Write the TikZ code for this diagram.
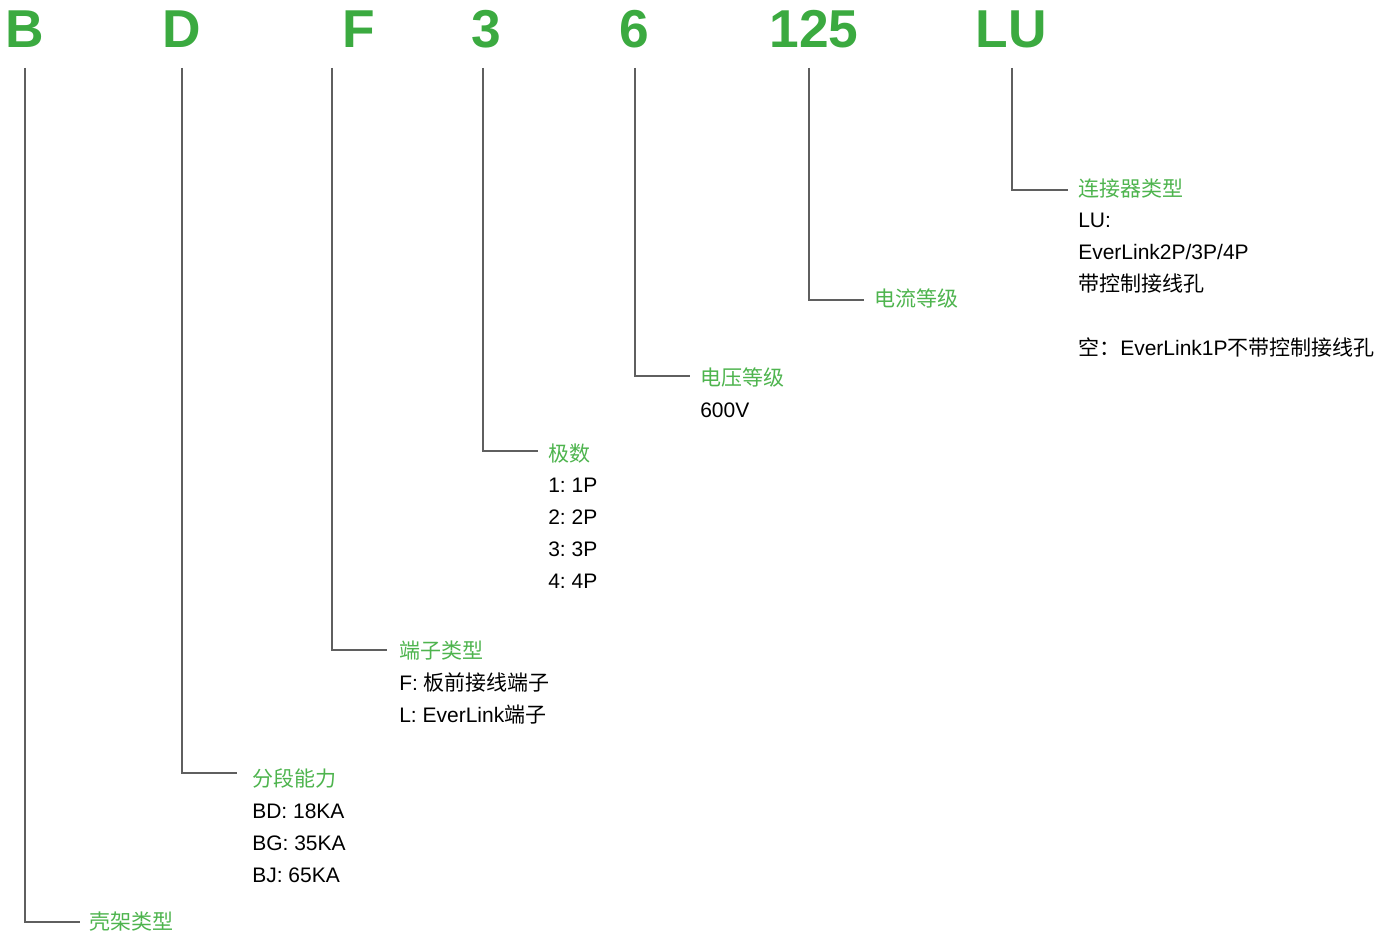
\documentclass[tikz,border=0pt]{standalone}
\usepackage{fontspec}
\setmainfont{Liberation Sans}
\newfontfamily\cjk{Noto Sans CJK SC}
\usetikzlibrary{calc}
\definecolor{gbig}{RGB}{59,170,64}
\definecolor{glab}{RGB}{78,180,78}
\definecolor{lgray}{RGB}{95,95,95}
\frenchspacing
\newcommand\stk[1]{\vtop{\baselineskip=24pt\lineskiplimit=-100pt\relax #1}}
\begin{document}
\begin{tikzpicture}[x=0.75pt,y=-0.75pt,
  big/.style={font=\fontsize{40}{40}\selectfont\bfseries, text=gbig, inner sep=0pt, anchor=base},
  ttl/.style={font=\fontsize{15.75}{24}\selectfont\cjk, text=glab, inner sep=0pt, anchor=base west},
  bdy/.style={font=\fontsize{15.75}{24}\selectfont, text=black, inner sep=0pt, anchor=base west},
  conn/.style={draw=lgray, line width=0.8pt}]
\useasboundingbox (0,0) rectangle (1397,934);
% code letters
\node[big] (nB)   at (24.5,48) {B};
\node[big] (nD)   at (182,48)  {D};
\node[big] (nF)   at (358.5,48) {F};
\node[big] (n3)   at (486,48)  {3};
\node[big] (n6)   at (634.5,48) {6};
\node[big] (n125) at (814,48)  {125};
\node[big] (nLU)  at (1011.5,48) {LU};
% connector tops
\coordinate (tB)   at (25,68);
\coordinate (tD)   at (182,68);
\coordinate (tF)   at (332,68);
\coordinate (t3)   at (483,68);
\coordinate (t6)   at (635,68);
\coordinate (t125) at (809,68);
\coordinate (tLU)  at (1012,68);
% titles
\node[ttl] (hB)   at (89,929)  {壳架类型};
\node[ttl] (hD)   at (252,786) {分段能力};
\node[ttl] (hF)   at (399,658) {端子类型};
\node[ttl] (h3)   at (548,461) {极数};
\node[ttl] (h6)   at (700,386) {电压等级};
\node[ttl] (h125) at (874,307) {电流等级};
\node[ttl] (hLU)  at (1078,197) {连接器类型};
% bodies
\node[bdy] (bD) at (252,818) {\stk{\hbox{BD: 18KA}\hbox{BG: 35KA}\hbox{BJ: 65KA}}};
\node[bdy] (bF) at (399,690) {\stk{\hbox{F: {\cjk 板前接线端子}}\hbox{L: EverLink{\cjk 端子}}}};
\node[bdy] (b3) at (548,493) {\stk{\hbox{1: 1P}\hbox{2: 2P}\hbox{3: 3P}\hbox{4: 4P}}};
\node[bdy] (b6) at (700,418) {600V};
\node[bdy] (bLU) at (1078,228) {\stk{\hbox{LU:}\hbox{EverLink2P/3P/4P}\hbox{\cjk 带控制接线孔}\hbox{}\hbox{{\cjk 空：}EverLink1P{\cjk 不带控制接线孔}}}};
% connectors
\draw[conn] (tB)   |- ($(hB.base west)+(-9,-7)$);
\draw[conn] (tD)   |- ($(hD.base west)+(-15,-13)$);
\draw[conn] (tF)   |- ($(hF.base west)+(-12,-8)$);
\draw[conn] (t3)   |- ($(h3.base west)+(-10,-10)$);
\draw[conn] (t6)   |- ($(h6.base west)+(-10,-10)$);
\draw[conn] (t125) |- ($(h125.base west)+(-10,-7)$);
\draw[conn] (tLU)  |- ($(hLU.base west)+(-10,-7)$);
\end{tikzpicture}
\end{document}
